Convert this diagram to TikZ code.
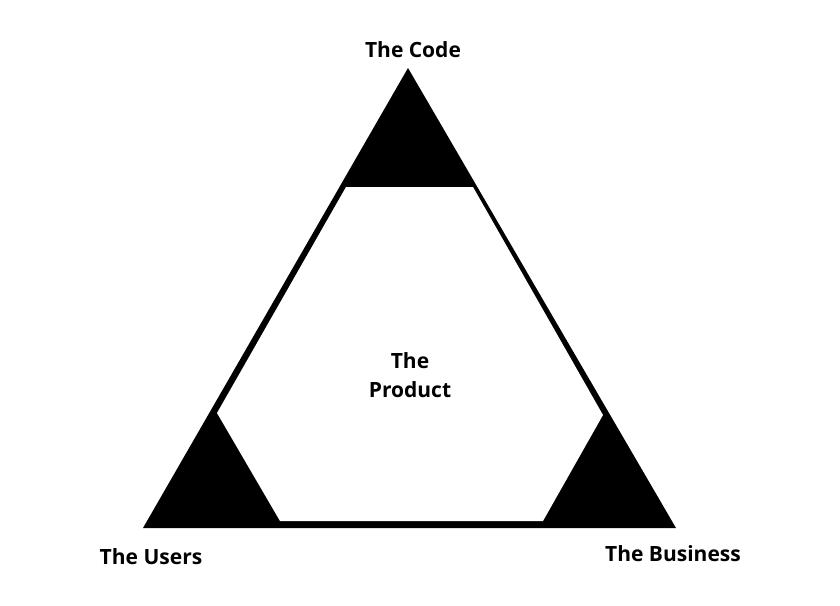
\documentclass[tikz,border=0pt]{standalone}
\usepackage{fontspec}
\setmainfont{Open Sans}
\usepackage{tikz}

\tikzset{
	label text/.style={font=\bfseries\fontsize{21}{29}\selectfont, inner sep=0pt, align=center}
}

\begin{document}
\begin{tikzpicture}[x=1pt, y=-1pt]
	%tlo
	\fill[white] (0,0) rectangle (840,605);
	\useasboundingbox (0,0) rectangle (840,605);

	%wierzcholki
	\coordinate (top) at (408,68);
	\coordinate (left) at (143,528);
	\coordinate (right) at (676,528);

	%trojkat
	\fill[black] (top) -- (right) -- (left) -- cycle;

	%szesciokat
	\fill[white] (346,187) -- (473,187) -- (603,415) -- (543,521)
		-- (280,521) -- (217,413) -- cycle;

	%opisy
	\node[label text] (code) at (413,50) {The Code};
	\node[label text] (users) at (151,557) {The Users};
	\node[label text] (business) at (673,554) {The Business};
	\node[label text] (product) at (410,375) {The\\Product};
\end{tikzpicture}
\end{document}
